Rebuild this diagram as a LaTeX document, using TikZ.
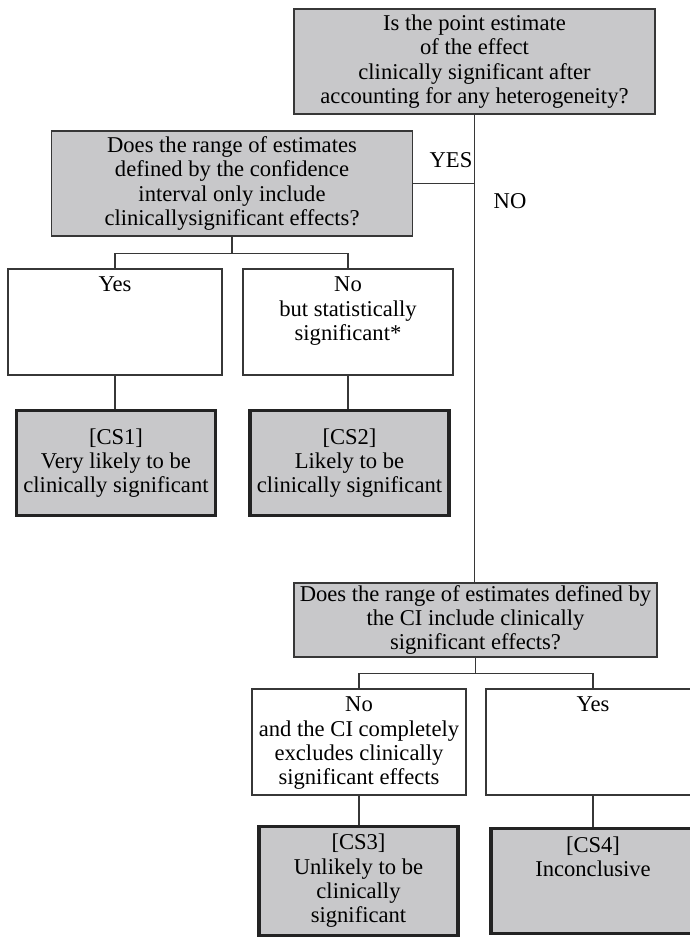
\documentclass[tikz,border=0pt]{standalone}
\usepackage{fontspec}
\setmainfont{Liberation Serif}
\usetikzlibrary{positioning, calc}

\definecolor{boxgray}{RGB}{200,200,202}
\definecolor{linegray}{RGB}{55,55,55}
\definecolor{edgegray}{RGB}{35,35,35}

% text pinned to the top of a box
\newcommand{\toptext}[2]{\parbox[c][#1][t]{204pt}{\centering #2}}

\begin{document}
\begin{tikzpicture}[
    x=1pt, y=-1pt,
    every node/.style={font=\fontsize{22.6}{24.3}\selectfont},
    question/.style={rectangle, draw=linegray, line width=1.1pt, fill=boxgray,
                     align=center, minimum width=361pt, minimum height=105pt,
                     inner sep=1pt},
    answer/.style={rectangle, draw=linegray, line width=1.1pt, fill=white,
                   minimum width=214pt, minimum height=106pt,
                   inner xsep=0pt, inner ysep=8pt},
    verdict/.style={rectangle, draw=edgegray, line width=3.5pt, fill=boxgray,
                    align=center, minimum width=199pt, minimum height=105pt,
                    inner xsep=0pt, inner ysep=8pt},
    link/.style={draw=linegray, line width=1.1pt}
]
    \useasboundingbox (0,0) rectangle (690,937);
    \clip (0,0) rectangle (690,937);

    \node[question]                  (q1)  at (474.5,61.5)
        {Is the point estimate\\of the effect\\clinically significant after\\accounting for any heterogeneity?};
    \node[question]                  (q2)  at (232,183.5)
        {Does the range of estimates\\defined by the confidence\\interval only include\\clinicallysignificant effects?};
    \node[answer]                    (a1)  at (115,322)   {\toptext{90pt}{Yes}};
    \node[answer, minimum width=210pt] (a2) at (348,322)
        {\toptext{90pt}{No\\but statistically\\significant*}};
    \node[verdict]                   (cs1) at (116,463)
        {[CS1]\\Very likely to be\\clinically significant};
    \node[verdict]                   (cs2) at (349.5,463)
        {[CS2]\\Likely to be\\clinically significant};
    \node[question, minimum width=363pt, minimum height=74pt] (q3) at (475.5,620)
        {Does the range of estimates defined by\\the CI include clinically\\significant effects?};
    \node[answer]                    (b1)  at (359,742)
        {\toptext{90pt}{No\\and the CI completely\\excludes clinically\\significant effects}};
    \node[answer]                    (b2)  at (593,742)   {\toptext{90pt}{Yes}};
    \node[verdict]                   (cs3) at (358.5,881)
        {[CS3]\\Unlikely to be\\clinically\\significant};
    \node[verdict]                   (cs4) at (593,881)
        {\toptext{89pt}{[CS4]\\Inconclusive}};

    \node (yes) at (451,160) {YES};
    \node (no)  at (510,201) {NO};

    % main trunk and the YES branch
    \draw[link] (q1.south) -- (q1.south |- q3.north);
    \draw[link] (q2.east)  -- (q2.east -| q1.south);

    % upper split
    \draw[link] (q2.south) -- ([yshift=-17pt]q2.south) coordinate (j2);
    \draw[link] (a1.north) |- (j2) -| (a2.north);
    \draw[link] (a1.south) -- (a1.south |- cs1.north);
    \draw[link] (a2.south) -- (a2.south |- cs2.north);

    % lower split
    \draw[link] (q3.south) -- ([yshift=-16pt]q3.south) coordinate (j3);
    \draw[link] (b1.north) |- (j3) -| (b2.north);
    \draw[link] (b1.south) -- (b1.south |- cs3.north);
    \draw[link] (b2.south) -- (b2.south |- cs4.north);
\end{tikzpicture}
\end{document}
